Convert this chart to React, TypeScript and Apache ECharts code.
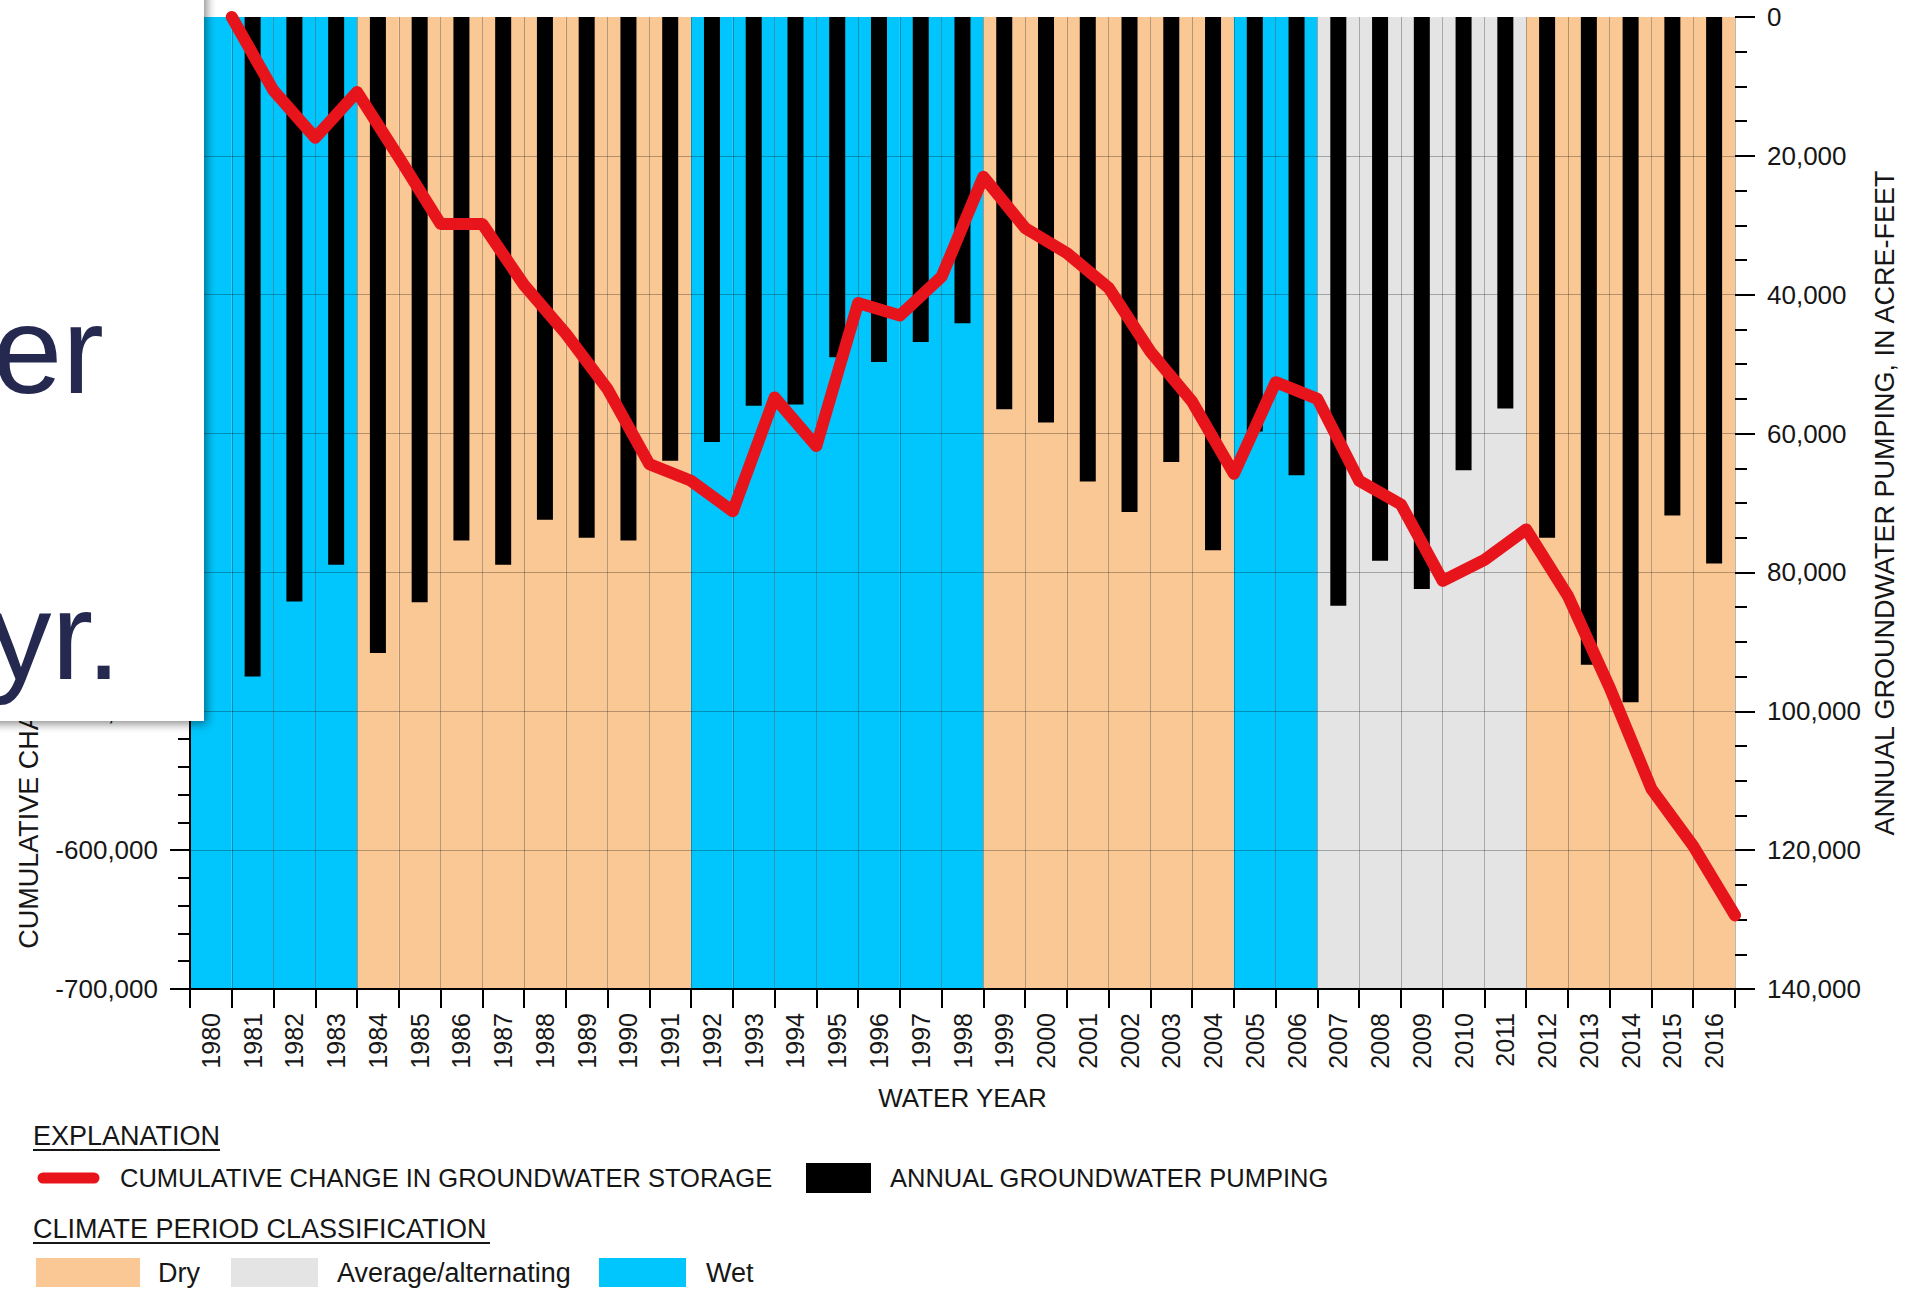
import React, { useEffect, useRef } from "react";
import * as echarts from "echarts";

const years = [
  "1980", "1981", "1982", "1983", "1984", "1985", "1986", "1987", "1988", "1989",
  "1990", "1991", "1992", "1993", "1994", "1995", "1996", "1997", "1998", "1999",
  "2000", "2001", "2002", "2003", "2004", "2005", "2006", "2007", "2008", "2009",
  "2010", "2011", "2012", "2013", "2014", "2015", "2016",
];

const climate = [
  "Wet", "Wet", "Wet", "Wet", "Dry", "Dry", "Dry", "Dry", "Dry", "Dry",
  "Dry", "Dry", "Wet", "Wet", "Wet", "Wet", "Wet", "Wet", "Wet", "Dry",
  "Dry", "Dry", "Dry", "Dry", "Dry", "Wet", "Wet", "Average", "Average", "Average",
  "Average", "Average", "Dry", "Dry", "Dry", "Dry", "Dry",
];

// Annual groundwater pumping, acre-feet (right axis)
const pumping = [
  null, 95000, 84200, 78900, 91600, 84300, 75400, 78900, 72400, 75000,
  75400, 63900, 61200, 56000, 55800, 49000, 49700, 46800, 44100, 56500,
  58400, 66900, 71300, 64100, 76800, 59700, 66000, 84800, 78300, 82400,
  65300, 56400, 75000, 93300, 98700, 71800, 78700,
];

// Cumulative change in groundwater storage at end of each water year, acre-feet (left axis)
const storage = [
  0, -53000, -87000, -54000, -101000, -149000, -149000, -193000, -228000, -268000,
  -322000, -334000, -356000, -274000, -309000, -206000, -215000, -187000, -115000, -152000,
  -170000, -195000, -241000, -277000, -329000, -263000, -275000, -334000, -351000, -406000,
  -391000, -369000, -417000, -483000, -556000, -597000, -647000,
];

const climateColors: Record<string, string> = {
  Dry: "#fac895",
  Average: "#e4e4e4",
  Wet: "#00c6fd",
};

const FONT = "'Liberation Sans', Arial, Helvetica, sans-serif";
const TXT = "#161616";

export default function App() {
  const ref = useRef<HTMLDivElement>(null);

  useEffect(() => {
    if (!ref.current) return;
    const chart = echarts.init(ref.current, undefined, { renderer: "svg" });

    const fmt = (v: number) => Math.round(v).toLocaleString("en-US");
    // labels above -500,000 sit beneath the overlapping slide text box
    const leftFmt = (v: number) => (v > -500000 ? "" : fmt(v));

    const legendText = (text: string, x: number, y: number, size = 25.5) => ({
      type: "text",
      x,
      y,
      style: { text, fontSize: size, fontFamily: FONT, fill: TXT, align: "left", verticalAlign: "middle" },
    });

    const option: any = {
      animation: false,
      backgroundColor: "#ffffff",
      textStyle: { fontFamily: FONT },
      grid: { left: 190, right: 173, top: 17, bottom: 301, containLabel: false },
      xAxis: [
        {
          type: "category",
          data: years,
          boundaryGap: true,
          z: 2,
          axisLine: { onZero: false, lineStyle: { color: "#000", width: 2 } },
          axisTick: { show: true, interval: 0, length: 19, lineStyle: { color: "#000", width: 2 } },
          axisLabel: { rotate: 90, interval: 0, margin: 24, fontSize: 25, color: TXT, fontFamily: FONT },
          splitLine: { show: true, interval: 0, lineStyle: { color: "rgba(0,0,0,0.28)", width: 1 } },
          name: "WATER YEAR",
          nameLocation: "middle",
          nameGap: 96,
          nameTextStyle: { fontSize: 26, color: TXT, fontFamily: FONT },
        },
        { type: "category", data: years, show: false, boundaryGap: true },
        { type: "value", min: 0, max: 37, show: false },
      ],
      yAxis: [
        {
          type: "value",
          min: -700000,
          max: 0,
          interval: 100000,
          position: "left",
          z: 2,
          axisLine: { show: true, onZero: false, lineStyle: { color: "#000", width: 2 } },
          axisTick: { show: true, length: 20, lineStyle: { color: "#000", width: 2 } },
          minorTick: { show: true, splitNumber: 5, length: 12, lineStyle: { color: "#000", width: 2 } },
          axisLabel: { formatter: leftFmt, margin: 32, fontSize: 26, color: TXT, fontFamily: FONT },
          splitLine: { show: true, showMaxLine: false, lineStyle: { color: "rgba(0,0,0,0.28)", width: 1 } },
          name: "CUMULATIVE CHANGE IN GROUNDWATER STORAGE, IN ACRE-FEET",
          nameLocation: "middle",
          nameRotate: 90,
          nameGap: 148,
          nameTextStyle: { fontSize: 27, color: TXT, fontFamily: FONT },
        },
        {
          type: "value",
          min: 0,
          max: 140000,
          interval: 20000,
          inverse: true,
          position: "right",
          z: 2,
          axisLine: { show: false, onZero: false },
          axisTick: { show: true, length: 20, lineStyle: { color: "#000", width: 2 } },
          minorTick: { show: true, splitNumber: 4, length: 12, lineStyle: { color: "#000", width: 2 } },
          axisLabel: { formatter: fmt, margin: 32, fontSize: 26, color: TXT, fontFamily: FONT },
          splitLine: { show: false },
          name: "ANNUAL GROUNDWATER PUMPING, IN ACRE-FEET",
          nameLocation: "middle",
          nameRotate: 90,
          nameGap: 103,
          nameTextStyle: { fontSize: 27, color: TXT, fontFamily: FONT },
        },
      ],
      series: [
        {
          name: "Climate period",
          type: "bar",
          xAxisIndex: 1,
          yAxisIndex: 1,
          barWidth: "100%",
          z: 1,
          silent: true,
          data: climate.map((c) => ({ value: 140000, itemStyle: { color: climateColors[c] } })),
        },
        {
          name: "ANNUAL GROUNDWATER PUMPING",
          type: "bar",
          xAxisIndex: 0,
          yAxisIndex: 1,
          barWidth: 16,
          z: 3,
          itemStyle: { color: "#000000" },
          data: pumping.map((v) => (v == null ? "-" : v)),
        },
        {
          name: "CUMULATIVE CHANGE IN GROUNDWATER STORAGE",
          type: "line",
          xAxisIndex: 2,
          yAxisIndex: 0,
          z: 4,
          clip: false,
          symbol: "none",
          lineStyle: { color: "#e8141b", width: 12, cap: "round", join: "round" },
          data: storage.map((v, i) => [i + 1, v]),
        },
      ],
      graphic: [
        // overlapping slide text box
        {
          type: "rect",
          z: 100,
          shape: { x: -20, y: -20, width: 224, height: 741 },
          style: {
            fill: "#ffffff",
            shadowBlur: 10,
            shadowColor: "rgba(0,0,0,0.45)",
            shadowOffsetX: 3,
            shadowOffsetY: 3,
          },
        },
        {
          type: "text",
          z: 101,
          x: 104,
          y: 349,
          style: { text: "er", fontSize: 125, fontFamily: FONT, fill: "#25284f", align: "right", verticalAlign: "middle" },
        },
        {
          type: "text",
          z: 101,
          x: 121,
          y: 635,
          style: { text: "yr.", fontSize: 125, fontFamily: FONT, fill: "#25284f", align: "right", verticalAlign: "middle" },
        },
        // explanation
        legendText("EXPLANATION", 33, 1136, 27),
        { type: "line", shape: { x1: 33, y1: 1150, x2: 220, y2: 1150 }, style: { stroke: TXT, lineWidth: 2 } },
        { type: "line", shape: { x1: 43, y1: 1178, x2: 94, y2: 1178 }, style: { stroke: "#e8141b", lineWidth: 11, lineCap: "round" } },
        legendText("CUMULATIVE CHANGE IN GROUNDWATER STORAGE", 120, 1178),
        { type: "rect", shape: { x: 806, y: 1163, width: 65, height: 30 }, style: { fill: "#000" } },
        legendText("ANNUAL GROUNDWATER PUMPING", 890, 1178),
        legendText("CLIMATE PERIOD CLASSIFICATION", 33, 1229, 27),
        { type: "line", shape: { x1: 33, y1: 1243, x2: 490, y2: 1243 }, style: { stroke: TXT, lineWidth: 2 } },
        { type: "rect", shape: { x: 36, y: 1258, width: 104, height: 29 }, style: { fill: climateColors.Dry } },
        legendText("Dry", 158, 1273, 27),
        { type: "rect", shape: { x: 231, y: 1258, width: 87, height: 29 }, style: { fill: climateColors.Average } },
        legendText("Average/alternating", 337, 1273, 27),
        { type: "rect", shape: { x: 599, y: 1258, width: 87, height: 29 }, style: { fill: climateColors.Wet } },
        legendText("Wet", 706, 1273, 27),
      ],
    };

    chart.setOption(option);
    return () => chart.dispose();
  }, []);

  return (
    <div
      ref={ref}
      style={{ position: "absolute", left: 0, top: 0, width: 1908, height: 1290 }}
    />
  );
}
